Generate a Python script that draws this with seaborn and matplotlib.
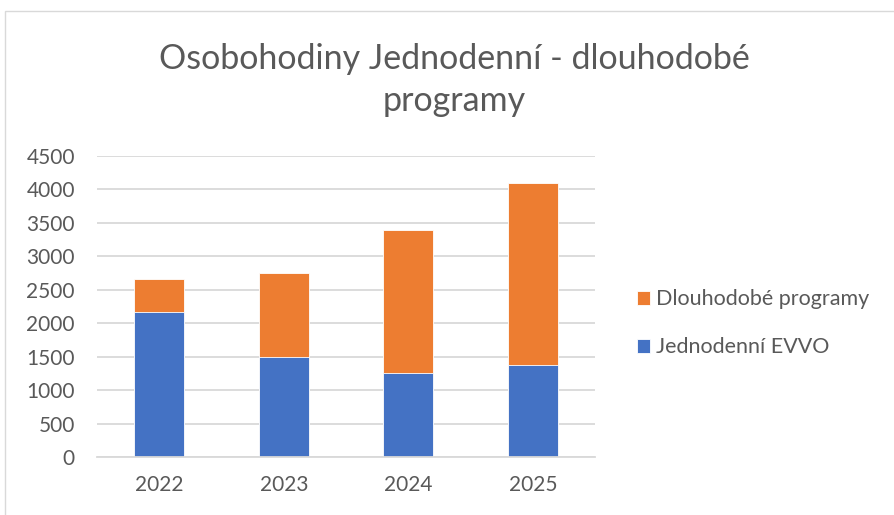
import matplotlib
matplotlib.use("Agg")
import matplotlib.pyplot as plt
import matplotlib.patches as mpatches
import pandas as pd
import seaborn as sns

years = ["2022", "2023", "2024", "2025"]
jednodenni = [2170, 1490, 1250, 1380]
dlouhodobe = [490, 1260, 2140, 2710]
yticks = [0, 500, 1000, 1500, 2000, 2500, 3000, 3500, 4000, 4500]

BLUE = "#4472C4"
ORANGE = "#ED7D31"
TEXT = "#595959"
GRID = "#D9D9D9"

df = pd.DataFrame({"rok": years, "jedno": jednodenni, "dlouho": dlouhodobe})
df["celkem"] = df["jedno"] + df["dlouho"]

sns.set_style("white")
plt.rcParams["font.family"] = ["Lato", "DejaVu Sans"]

fig = plt.figure(figsize=(8.95, 5.15), dpi=100)
ax = fig.add_axes([0.1084, 0.1126, 0.5566, 0.5845])

# stacked: orange total first, blue over it
sns.barplot(data=df, x="rok", y="celkem", color=ORANGE, width=0.4, saturation=1,
            edgecolor="white", linewidth=0.6, ax=ax, label="Dlouhodobé programy")
sns.barplot(data=df, x="rok", y="jedno", color=BLUE, width=0.4, saturation=1,
            edgecolor="white", linewidth=0.6, ax=ax, label="Jednodenní EVVO")
handles, labels = ax.get_legend_handles_labels()
if ax.get_legend() is not None:
    ax.get_legend().remove()

ax.set_ylim(0, 4500)
ax.set_xlim(-0.5, 3.5)
ax.set_yticks(yticks)
ax.yaxis.grid(True, color=GRID, linewidth=1.3)
ax.set_axisbelow(True)
for s in ["top", "right", "left"]:
    ax.spines[s].set_visible(False)
ax.spines["bottom"].set_color(GRID)
ax.spines["bottom"].set_linewidth(1.3)
ax.set_xlabel("")
ax.set_ylabel("")
ax.tick_params(axis="y", length=0, pad=16, labelsize=15, labelcolor=TEXT)
ax.tick_params(axis="x", which="major", length=0, pad=13, labelsize=15, labelcolor=TEXT)
ax.set_xticks([-0.5, 0.5, 1.5, 2.5, 3.5], minor=True)
ax.tick_params(axis="x", which="minor", length=6, width=1.3, color=GRID)

fig.legend(handles, labels, loc="center left", bbox_to_anchor=(0.69, 0.372),
           frameon=False, fontsize=15.5, labelcolor=TEXT, handlelength=0.6,
           handleheight=0.6, handletextpad=0.3, labelspacing=1.3)

fig.text(0.508, 0.885, "Osobohodiny Jednodenní - dlouhodobé", ha="center", va="center",
         fontsize=24.5, color=TEXT)
fig.text(0.508, 0.803, "programy", ha="center", va="center", fontsize=24.5, color=TEXT)

# chart border
fig.patches.append(mpatches.Rectangle((5 / 895, -0.01), 1.0, 1 - 11 / 515 + 0.01,
                                      transform=fig.transFigure, fill=False,
                                      edgecolor=GRID, linewidth=1))

fig.savefig("out.png", dpi=100)
